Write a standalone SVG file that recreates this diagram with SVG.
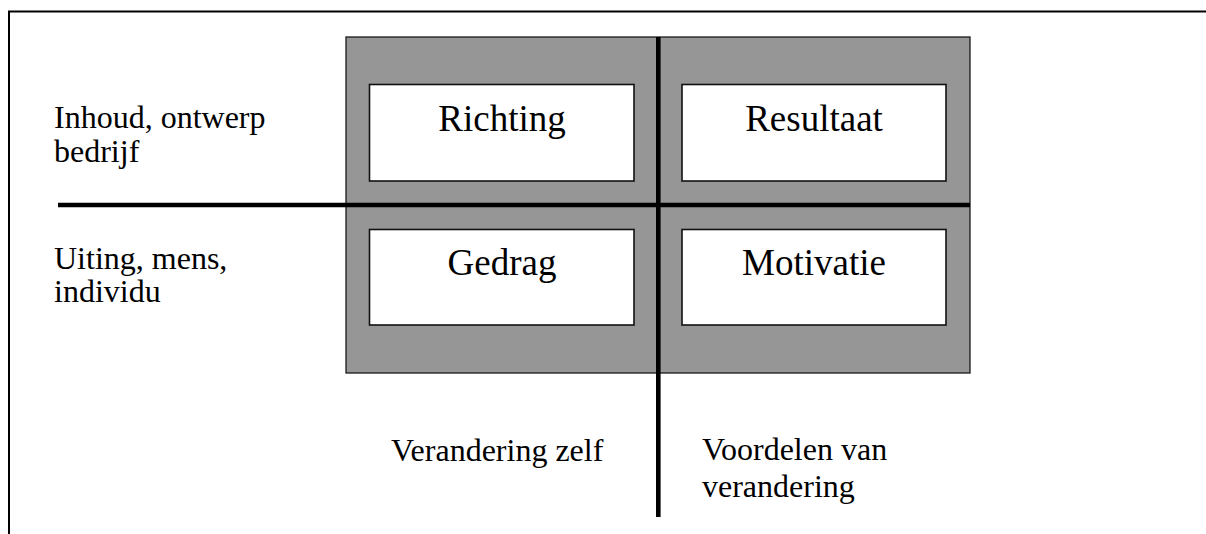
<svg xmlns="http://www.w3.org/2000/svg" width="1206" height="534" viewBox="0 0 1206 534">
  <style>
    .frame { fill: none; stroke: #000; stroke-width: 2; }
    .panel { fill: #969696; stroke: #1a1a1a; stroke-width: 1.3; }
    .box { fill: #fff; stroke: #111; stroke-width: 1.6; }
    .axis { stroke: #000; stroke-width: 4.6; fill: none; }
    .label { font-family: "Liberation Serif", "Times New Roman", serif; font-size: 32px; fill: #000; }
    .title { font-family: "Liberation Serif", "Times New Roman", serif; font-size: 37px; fill: #000; text-anchor: middle; }
  </style>

  <!-- page frame (open to the right and bottom) -->
  <path class="frame" d="M9,534 V11.5 H1206"/>

  <!-- shaded panel behind the four quadrants -->
  <rect id="panel" class="panel" x="346" y="37" width="624" height="336"/>

  <g id="node-richting">
    <rect class="box" x="369.5" y="84.5" width="264.5" height="96.5"/>
    <text class="title" x="502" y="131">Richting</text>
  </g>
  <g id="node-resultaat">
    <rect class="box" x="682" y="84.5" width="264" height="96.5"/>
    <text class="title" x="814" y="131">Resultaat</text>
  </g>
  <g id="node-gedrag">
    <rect class="box" x="369.5" y="229.5" width="264.5" height="95.5"/>
    <text class="title" x="502" y="275">Gedrag</text>
  </g>
  <g id="node-motivatie">
    <rect class="box" x="682" y="229.5" width="264" height="95.5"/>
    <text class="title" x="814" y="275">Motivatie</text>
  </g>

  <!-- dividing axes -->
  <g id="connectors">
    <line class="axis" x1="58" y1="205" x2="970" y2="205"/>
    <line class="axis" x1="658.3" y1="37" x2="658.3" y2="517"/>
  </g>

  <!-- row labels -->
  <g id="label-inhoud">
    <text class="label" x="54" y="128">Inhoud, ontwerp</text>
    <text class="label" x="54" y="161.5">bedrijf</text>
  </g>
  <g id="label-uiting">
    <text class="label" x="54" y="268.5">Uiting, mens,</text>
    <text class="label" x="54" y="302">individu</text>
  </g>

  <!-- column labels -->
  <g id="label-verandering">
    <text class="label" x="391" y="461">Verandering zelf</text>
  </g>
  <g id="label-voordelen">
    <text class="label" x="702" y="459.5">Voordelen van</text>
    <text class="label" x="702" y="496.5">verandering</text>
  </g>
</svg>
